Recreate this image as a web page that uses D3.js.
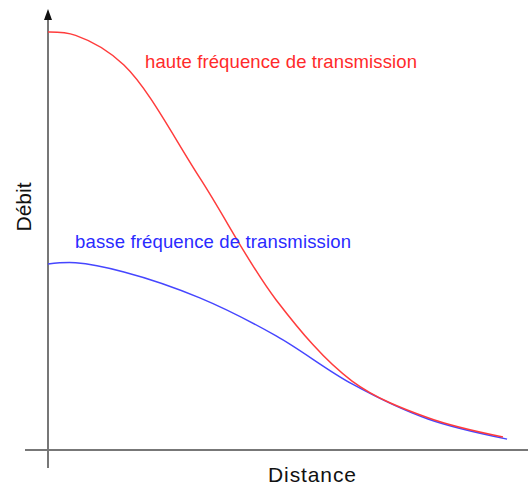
<!DOCTYPE html>
<html>
<head>
<meta charset="utf-8">
<script src="https://cdn.jsdelivr.net/npm/d3@7"></script>
<style>
  body { margin: 0; background: #fff; }
  text { font-family: "Liberation Sans", Arial, sans-serif; }
</style>
</head>
<body>
<script>
// distance (arbitrary units) and debit (arbitrary units)
var hauteDistance = [0, 6, 16.5, 33.0, 49.6, 66.1, 82.6, 98.9];
var hauteDebit = [100, 99.2, 92.1, 65.1, 35.9, 16.5, 7.7, 3.1];
var basseDistance = [0, 6, 16.5, 33.0, 49.6, 66.1, 82.6, 99.8];
var basseDebit = [44.5, 44.8, 42.6, 36.4, 27.3, 15.8, 7.4, 2.6];
var labels = ['haute fréquence de transmission', 'basse fréquence de transmission'];

var W = 528, H = 486;
var svg = d3.select('body').append('svg').attr('width', W).attr('height', H);

var x = d3.scaleLinear().domain([0, 100]).range([48, 508]);
var y = d3.scaleLinear().domain([0, 100]).range([450, 32]);

// axes
svg.append('line').attr('x1', 25).attr('x2', 528).attr('y1', y(0)).attr('y2', y(0))
    .attr('stroke', '#777').attr('stroke-width', 2);
svg.append('line').attr('x1', x(0)).attr('x2', x(0)).attr('y1', 18).attr('y2', 468)
    .attr('stroke', '#777').attr('stroke-width', 2);
svg.append('path').attr('d', 'M' + x(0) + ',9 L' + (x(0) - 4) + ',20 L' + (x(0) + 4) + ',20 Z')
    .attr('fill', '#111');

var line = d3.line()
    .x(function(d) { return x(d[0]); })
    .y(function(d) { return y(d[1]); })
    .curve(d3.curveCatmullRom.alpha(0.5));

var basse = d3.zip(basseDistance, basseDebit);
var haute = d3.zip(hauteDistance, hauteDebit);

svg.append('path').attr('d', line(basse)).attr('fill', 'none')
    .attr('stroke', '#4646ff').attr('stroke-width', 1.5);
svg.append('path').attr('d', line(haute)).attr('fill', 'none')
    .attr('stroke', '#ff3c3c').attr('stroke-width', 1.5);

svg.append('text').attr('x', 145).attr('y', 68).attr('font-size', 18.5)
    .attr('textLength', 272).attr('fill', '#ff2a2a').text(labels[0]);
svg.append('text').attr('x', 75).attr('y', 248).attr('font-size', 18.5)
    .attr('textLength', 276).attr('fill', '#2a2aff').text(labels[1]);

svg.append('text').attr('x', 312).attr('y', 482).attr('text-anchor', 'middle')
    .attr('font-size', 21).attr('textLength', 88).attr('fill', '#111').text('Distance');
svg.append('text').attr('transform', 'translate(31,207) rotate(-90)')
    .attr('text-anchor', 'middle').attr('font-size', 21).attr('fill', '#111').text('Débit');
</script>
</body>
</html>
